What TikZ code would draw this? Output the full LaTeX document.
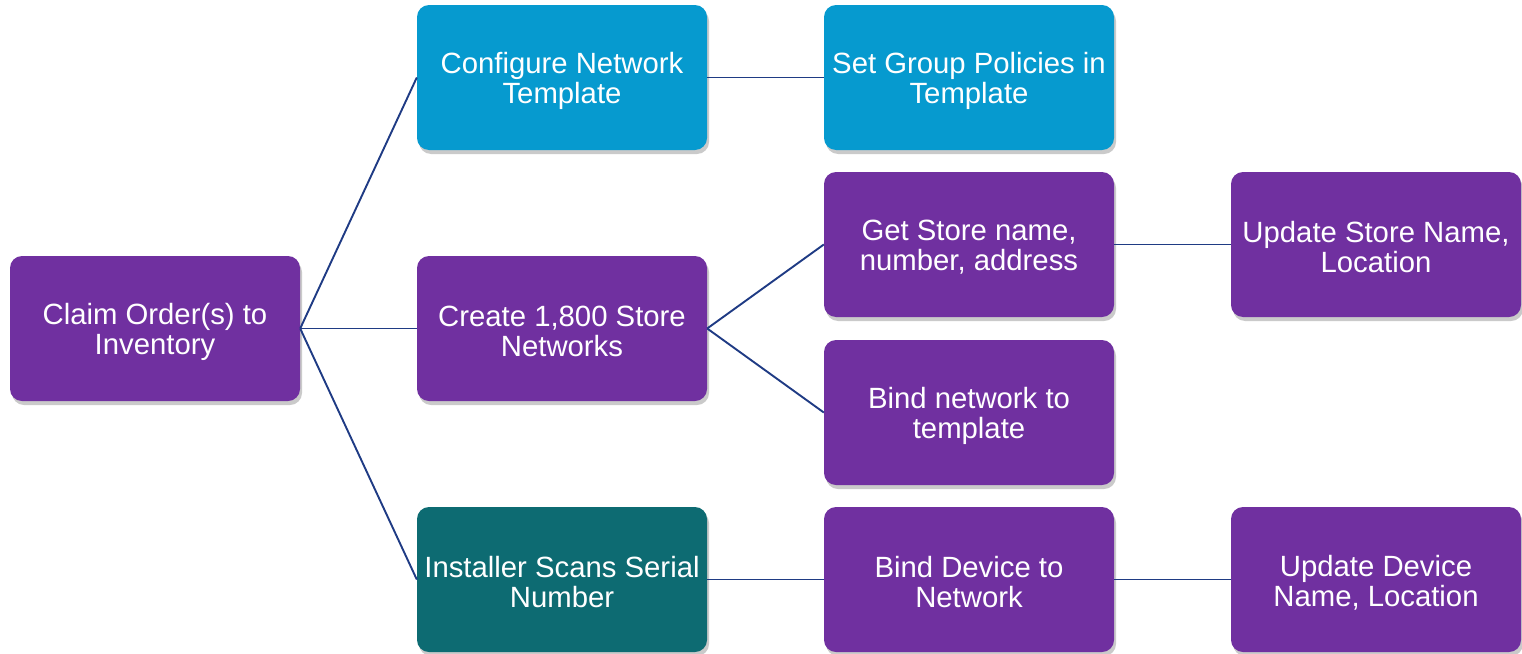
\documentclass[tikz,border=0pt]{standalone}
\usepackage{fontspec}
\setmainfont{Liberation Sans}
\usetikzlibrary{shadows}
\definecolor{cpurple}{HTML}{7030A0}
\definecolor{cblue}{HTML}{069ACF}
\definecolor{cteal}{HTML}{0D6B72}
\definecolor{cline}{HTML}{1F3B84}
\tikzset{
  box/.style={rounded corners=12pt, minimum width=290pt, minimum height=145pt,
    inner sep=0pt,
    drop shadow={opacity=0.35, shadow xshift=2pt, shadow yshift=-4pt, fill=black!60}},
  txt/.style={text=white, align=center, yshift=-3pt,
    font=\fontsize{29.3}{30}\selectfont},
  purplebox/.style={box, fill=cpurple},
  bluebox/.style={box, fill=cblue},
  tealbox/.style={box, fill=cteal},
  link/.style={draw=cline, line width=1.9pt}
}
\begin{document}
\begin{tikzpicture}[x=1pt,y=-1pt]
\useasboundingbox (0,0) rectangle (1522,653);
\node[purplebox, label={[txt]center:{Claim Order(s) to\\Inventory}}] (claim) at (155,328.5) {};
\node[bluebox, label={[txt]center:{Configure Network\\Template}}] (config) at (562,77.5) {};
\node[purplebox, label={[txt]center:{Create 1,800 Store\\Networks}}] (create) at (562,328.5) {};
\node[tealbox, label={[txt]center:{Installer Scans Serial\\Number}}] (install) at (562,579.5) {};
\node[bluebox, label={[txt]center:{Set Group Policies in\\Template}}] (policy) at (969,77.5) {};
\node[purplebox, label={[txt]center:{Get Store name,\\number, address}}] (getstore) at (969,244.5) {};
\node[purplebox, label={[txt]center:{Bind network to\\template}}] (bindnet) at (969,412.5) {};
\node[purplebox, label={[txt]center:{Bind Device to\\Network}}] (binddev) at (969,579.5) {};
\node[purplebox, label={[txt]center:{Update Store Name,\\Location}}] (updstore) at (1376,244.5) {};
\node[purplebox, label={[txt]center:{Update Device\\Name, Location}}] (upddev) at (1376,579.5) {};
\draw[link] (claim.east) -- (config.west);
\draw[link] (claim.east) -- (create.west);
\draw[link] (claim.east) -- (install.west);
\draw[link] (config.east) -- (policy.west);
\draw[link] (create.east) -- (getstore.west);
\draw[link] (create.east) -- (bindnet.west);
\draw[link] (getstore.east) -- (updstore.west);
\draw[link] (install.east) -- (binddev.west);
\draw[link] (binddev.east) -- (upddev.west);
\end{tikzpicture}
\end{document}
